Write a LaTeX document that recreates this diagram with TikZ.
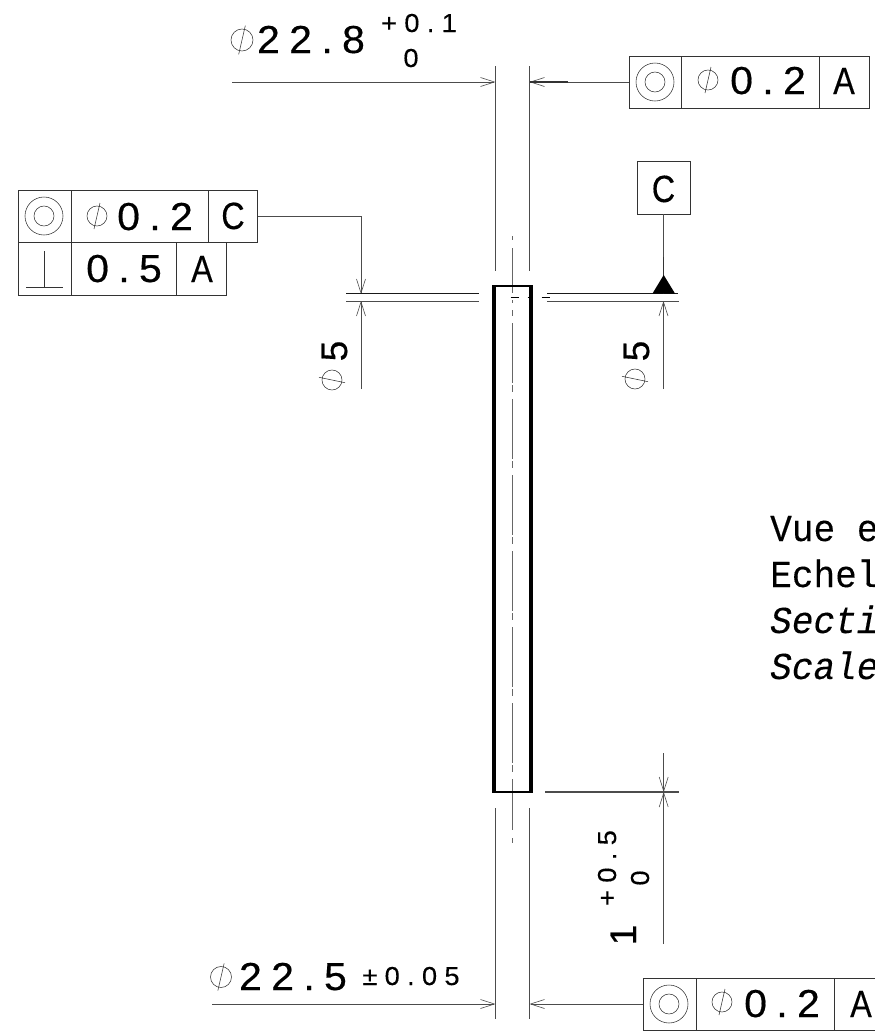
\documentclass[tikz,border=0pt]{standalone}
\usepackage{fontspec}
\setmainfont{Liberation Sans}
\newfontfamily\labb[LetterSpace=24,FakeStretch=1.05,FakeBold=0.4]{Liberation Sans}
\newfontfamily\labs[LetterSpace=28,FakeStretch=1.05,FakeBold=0.2]{Liberation Sans}
\newfontfamily\rotf[FakeBold=0.4]{Liberation Sans}
\newfontfamily\letts[FakeStretch=0.85,FakeBold=0.3]{Liberation Sans}
\newfontfamily\mymono[FakeStretch=0.95,FakeBold=0.2]{Liberation Mono}
\usetikzlibrary{arrows.meta}
\tikzset{
  thinline/.style={line width=.8pt,draw=black!70},
  heavyline/.style={line width=1.4pt,draw=black!80},
  framebox/.style={line width=.9pt,draw=black!80},
  sideline/.style={line width=3.6pt,draw=black},
  capline/.style={line width=2.6pt,draw=black},
  axisline/.style={line width=.9pt,draw=black!60},
  barbtip/.style={-{Straight Barb[length=14pt,width=9pt,line width=.6pt]}},
  txt/.style={inner sep=0pt,anchor=base},
  big/.style={txt,font=\labb\fontsize{39}{39}\selectfont},
  small/.style={txt,font=\labs\fontsize{26}{26}\selectfont},
  lett/.style={txt,font=\letts\fontsize{38}{38}\selectfont},
  rotbig/.style={txt,rotate=90,font=\rotf\fontsize{37}{37}\selectfont},
  rotsmall/.style={txt,rotate=90,font=\labs\fontsize{26}{26}\selectfont},
  mono/.style={inner sep=0pt,anchor=base west,font=\mymono\fontsize{38}{38}\selectfont},
  monoi/.style={inner sep=0pt,anchor=base west,font=\mymono\itshape\fontsize{38}{38}\selectfont},
}
\newcommand{\phisym}[3]{% x y r
  \draw[line width=.55pt,black!80] (#1,#2) circle (#3);
  \draw[line width=.55pt,black!80] ({#1-0.3*#3},{#2+1.3*#3}) -- ({#1+0.3*#3},{#2-1.3*#3});
}
\newcommand{\phirot}[3]{% x y r
  \draw[line width=.55pt,black!80] (#1,#2) circle (#3);
  \draw[line width=.55pt,black!80] ({#1-1.3*#3},{#2-0.27*#3}) -- ({#1+1.3*#3},{#2+0.27*#3});
}
\newcommand{\concentric}[2]{%
  \draw[line width=.55pt,black!80] (#1,#2) circle (19);
  \draw[line width=.55pt,black!80] (#1,#2) circle (10);
}
\begin{document}
\begin{tikzpicture}[x=1pt,y=-1pt]
\useasboundingbox (0,0) rectangle (875,1034);
\clip (0,0) rectangle (875,1034);
% extension lines
\draw[thinline] (495.5,66) -- (495.5,271);
\draw[thinline] (529.5,66) -- (529.5,271);
\draw[thinline] (495.5,808) -- (495.5,1019);
\draw[thinline] (529.5,808) -- (529.5,1019);
% axis
\draw[axisline] (512,236) -- (512,240);
\draw[axisline] (512,248) -- (512,293);
\draw[axisline] (512,300) -- (512,303);
\draw[axisline] (512,310) -- (512,316);
\draw[axisline,dash pattern=on 60pt off 2pt on 7pt off 7pt] (512,323) -- (512,772);
\draw[axisline] (512,779) -- (512,830);
\draw[axisline] (512,838) -- (512,843);
% part
\draw[sideline] (494.2,285) -- (494.2,793);
\draw[sideline] (531,285) -- (531,793);
\draw[capline] (492.4,286) -- (532.8,286);
\draw[capline] (492.4,792) -- (532.8,792);
% top
\coordinate (d1l) at (232,82);
\coordinate (d1a) at (495.5,82);
\coordinate (d1b) at (529.5,82);
\draw[thinline,barbtip] (d1l) -- (d1a);
\draw[framebox] (629,56) rectangle (869,108);
\draw[framebox] (681,56) -- (681,108);
\draw[framebox] (819,56) -- (819,108);
\coordinate (f1) at (629,82);
\coordinate (f1b) at (568,82);
\draw[thinline,barbtip] (f1) -- (d1b);
\draw[heavyline] (f1b) -- (d1b);
\concentric{655}{82}
\phisym{708}{80}{10}
\node[big] at (768,94) {0.2};
\node[lett] at (844,94) {A};
\phisym{242}{40}{11}
\node[big] at (311,53) {22.8};
\node[small] at (419,32) {+0.1};
\node[small] at (411,67) {0};
% left frames
\draw[framebox] (18,190) rectangle (257,242.5);
\draw[framebox] (18,242.5) rectangle (226,295);
\draw[framebox] (71,190) -- (71,295);
\draw[framebox] (208,190) -- (208,242.5);
\draw[framebox] (176.5,242.5) -- (176.5,295);
\concentric{44}{216}
\phisym{97}{216}{10}
\node[big] at (155,230) {0.2};
\node[lett] at (233,229) {C};
\draw[line width=.7pt,black!80] (26,287) -- (62.5,287);
\draw[line width=.7pt,black!80] (44,287) -- (44,251);
\node[big] at (124,282) {0.5};
\node[lett] at (202,282) {A};
\coordinate (l1) at (258,216);
\coordinate (l2) at (361,216);
\coordinate (l3) at (361,294);
\coordinate (l4) at (361,301);
\coordinate (l5) at (361,389);
\draw[thinline,barbtip] (l1) -- (l2) -- (l3);
\draw[thinline,barbtip] (l5) -- (l4);
\draw[thinline,draw=black!90] (346,293.5) -- (479,293.5);
\draw[thinline] (346,301) -- (479,301);
\node[rotbig] at (347,351) {5};
\phirot{332}{380}{10}
% right datum
\draw[thinline,draw=black!90] (547,293.5) -- (678,293.5);
\draw[thinline] (547,301) -- (679,301);
\draw[line width=1pt,black] (510.5,297) -- (519,297);
\draw[line width=1pt,black] (527.5,297) -- (533,297);
\draw[line width=1pt,black] (541.5,297) -- (550,297);
\draw[framebox] (637,161) rectangle (690,214);
\node[lett] at (663.5,202) {C};
\coordinate (c1) at (663.5,214);
\coordinate (c0) at (663.5,257);
\coordinate (c2) at (663.5,294);
\draw[thinline] (c1) -- (c2);
\draw[heavyline] (c0) -- (c2);
\fill (652.5,293.5) -- (675,293.5) -- (663.7,275) -- cycle;
\coordinate (c3) at (663.5,389);
\coordinate (c4) at (663.5,301);
\draw[thinline,barbtip] (c3) -- (c4);
\node[rotbig] at (649,351) {5};
\phirot{635}{379}{10}
% mono text
\node[mono] at (770,541) {Vue e};
\node[mono] at (770,587) {Echel};
\node[monoi] at (770,633) {Secti};
\node[monoi] at (770,679) {Scale};
% bottom right
\draw[thinline,line width=1.6pt] (545,792) -- (679,792);
\coordinate (g1) at (663.7,753);
\coordinate (g2) at (663.7,792);
\coordinate (g3) at (663.7,944);
\draw[thinline,barbtip] (g1) -- (g2);
\draw[thinline,barbtip] (g3) -- (g2);
\node[rotbig] at (636,935) {1};
\node[rotsmall] at (616,868) {+0.5};
\node[rotsmall] at (649,878) {0};
% bottom dims
\coordinate (b1) at (212,1004);
\coordinate (b2) at (495.5,1004);
\coordinate (b3) at (529.5,1004);
\draw[thinline,barbtip] (b1) -- (b2);
\draw[framebox] (643,978) rectangle (880,1030);
\draw[framebox] (696,978) -- (696,1030);
\draw[framebox] (834,978) -- (834,1030);
\coordinate (f2) at (643,1004);
\draw[thinline,barbtip] (f2) -- (b3);
\concentric{669}{1004}
\phisym{722}{1002}{10}
\node[big] at (782,1017) {0.2};
\node[lett] at (861,1017) {A};
\phisym{221}{977}{10.5}
\node[big] at (293,990) {22.5};
\node[small] at (411,985) {±0.05};
\end{tikzpicture}
\end{document}
